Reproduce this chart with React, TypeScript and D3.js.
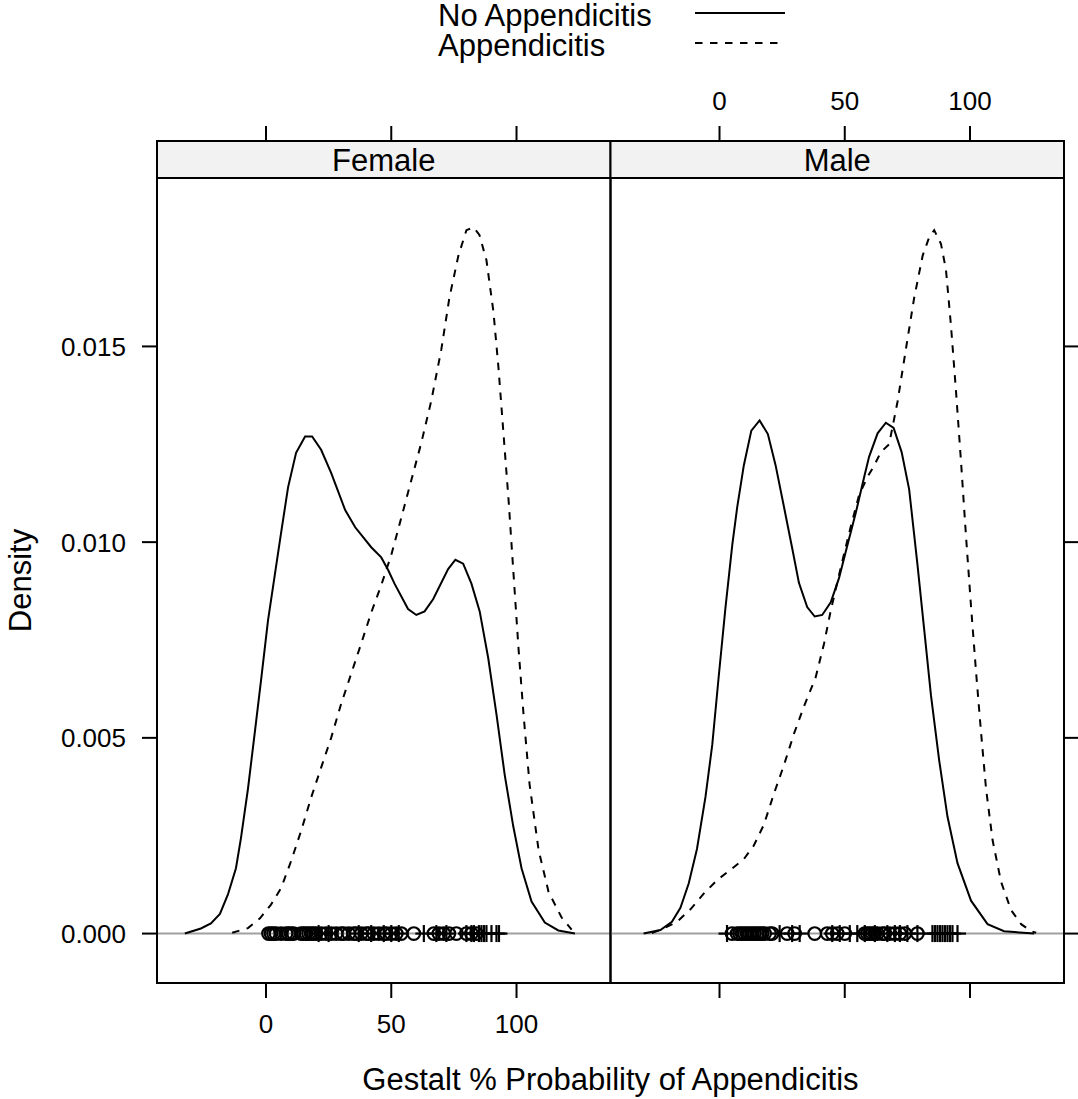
import React from "react";
import * as d3 from "d3";

// Density estimates (x = gestalt %, y = density) per sex and outcome group
const femaleNoApp: [number, number][] = [
  [-32.4, 0], [-26, 0.00013], [-22, 0.00026], [-18.4, 0.0005], [-15.2, 0.001], [-12, 0.00167],
  [-10, 0.00244], [-7.2, 0.0037], [-4.4, 0.00518], [-2, 0.00646], [0.8, 0.008], [3.6, 0.0092],
  [6, 0.01023], [8.8, 0.0114], [12, 0.01228], [15.6, 0.0127], [18.4, 0.0127], [22, 0.01236],
  [26, 0.01177], [31.6, 0.01082], [35.6, 0.01038], [42, 0.00987], [46, 0.00961], [48.8, 0.00928],
  [51.3, 0.00894], [56.7, 0.00829], [60, 0.00814], [63.3, 0.00823], [66.7, 0.00854], [72.7, 0.00931],
  [75.6, 0.00955], [78.7, 0.00945], [82, 0.00894], [85.3, 0.00823], [88.7, 0.00704], [92, 0.0056],
  [95.3, 0.00405], [98.7, 0.00274], [102, 0.00167], [106, 0.00082], [111.3, 0.00028], [116.7, 0.00008],
  [123.3, 0],
];

const femaleApp: [number, number][] = [
  [-13.5, 0.00002], [-7.2, 0.00014], [-2.4, 0.00039], [2, 0.00074], [6, 0.00116], [10, 0.00185],
  [14, 0.00262], [18, 0.00347], [22, 0.00424], [26, 0.005], [30, 0.00587], [34, 0.00664],
  [38, 0.00741], [42, 0.0082], [46, 0.0089], [50, 0.00967], [54, 0.01062], [58, 0.01158],
  [62, 0.01254], [66, 0.01362], [70, 0.01493], [73.2, 0.01624], [76.8, 0.01732], [80, 0.01797],
  [82.8, 0.01804], [85.2, 0.01785], [88, 0.0172], [90.8, 0.01588], [92.8, 0.01445], [94.8, 0.01277],
  [96.8, 0.0111], [98.8, 0.00919], [100.8, 0.00728], [102.8, 0.0056], [105.2, 0.00382],
  [108.8, 0.00214], [112.8, 0.00106], [118, 0.00041], [122, 0.0001],
];

const maleNoApp: [number, number][] = [
  [-30.3, 0], [-23.6, 0.00009], [-19, 0.0003], [-15.6, 0.00066], [-12.3, 0.00128], [-9, 0.00216],
  [-5.6, 0.00349], [-2.9, 0.00482], [-0.3, 0.00658], [2.4, 0.00834], [5.1, 0.00993], [7.1, 0.01091],
  [9.7, 0.01196], [12.7, 0.01285], [16, 0.01311], [19.3, 0.01276], [22.4, 0.01196], [25.7, 0.01091],
  [29, 0.00985], [31.7, 0.00896], [35, 0.00834], [38, 0.0081], [41, 0.00814], [44.4, 0.00846],
  [47.7, 0.00908], [51, 0.00991], [54.4, 0.01075], [57.7, 0.01165], [59.7, 0.01218], [63.1, 0.01278],
  [66.4, 0.01305], [69.5, 0.01292], [72.7, 0.0123], [75.7, 0.01135], [79, 0.00944], [81.7, 0.00777],
  [84.4, 0.00609], [87.7, 0.00442], [91, 0.00299], [95, 0.0018], [100.4, 0.00084], [107, 0.00024],
  [113.6, 0.00006], [125.6, 0],
];

const maleApp: [number, number][] = [
  [-27, 0.00001], [-22.3, 0.00013], [-17, 0.0003], [-11.6, 0.00062], [-6.3, 0.00102], [-0.9, 0.00137],
  [4.4, 0.00163], [9.7, 0.0019], [13.7, 0.00225], [17.7, 0.00278], [21.7, 0.00357], [25.7, 0.0043],
  [29.7, 0.0051], [33.7, 0.0058], [38.4, 0.00655], [41.7, 0.0074], [44.4, 0.00825], [48.4, 0.00935],
  [52.4, 0.0104], [55.7, 0.0112], [59.1, 0.01167], [61.7, 0.01195], [64.4, 0.0123], [67.7, 0.0125],
  [71.1, 0.0136], [74.4, 0.01493], [77.7, 0.01624], [81.1, 0.01732], [83.7, 0.01779], [85.7, 0.01797],
  [88.4, 0.01762], [90.4, 0.01696], [92.4, 0.01553], [94.4, 0.01386], [96.4, 0.01206], [98.4, 0.01015],
  [100.4, 0.00836], [102.4, 0.00669], [104.4, 0.00514], [106.4, 0.0037], [109, 0.00239],
  [112.4, 0.00132], [116.4, 0.0006], [120.4, 0.00024], [124.4, 0.00006], [126.4, 0.00002],
];

// Raw observations shown along the baseline
const femaleNoAppObs = [
  1, 2, 3, 4, 6, 8, 9, 10, 11, 14, 15, 16, 17, 18, 19, 20, 22, 24, 26, 28, 30, 31, 33, 35, 36, 38,
  40, 41, 43, 45, 47, 48, 50, 52, 54, 59, 67, 69, 71, 73, 76, 80, 82, 84,
];
const femaleAppObs = [21, 25, 37, 42, 47, 50, 53, 63, 68, 72, 80, 82, 83, 85, 86, 87, 88, 90, 92, 93];
const maleNoAppObs = [
  5, 7, 8, 9, 10, 11, 12, 13, 14, 15, 16, 17, 18, 20, 21, 27, 30, 38, 43, 45, 47, 50, 58, 59, 60,
  61, 62, 63, 65, 66, 68, 70, 72, 74, 79,
];
const maleAppObs = [
  3, 24, 29, 32, 45, 48, 52, 55, 58, 62, 67, 70, 72, 75, 79, 85, 86, 87, 88, 89, 90, 91, 92, 93, 95,
];

const panelNames = ["Female", "Male"];
const groupNames = ["No Appendicitis", "Appendicitis"];
const xTicks = [0, 50, 100];
const yTicks = [0, 0.005, 0.01, 0.015];
const yTickLabels = ["0.000", "0.005", "0.010", "0.015"];
const xLabel = "Gestalt % Probability of Appendicitis";
const yLabel = "Density";

const W = 1078;
const H = 1099;
const plotLeft = 157;
const plotRight = 1064;
const plotTop = 178;
const plotBottom = 983;
const stripH = 37;
const tick = 15;
const FONT = "'Liberation Sans', Arial, Helvetica, sans-serif";
const DASH = "7.5,7.5";

function padRange([a, b]: [number, number], p = 0.07): [number, number] {
  const d = b - a;
  return [a - p * d, b + p * d];
}

export default function App() {
  const curves = [
    [femaleNoApp, femaleApp],
    [maleNoApp, maleApp],
  ];
  const obs = [
    [femaleNoAppObs, femaleAppObs],
    [maleNoAppObs, maleAppObs],
  ];
  const all = curves.flat(2) as [number, number][];
  const xExt = d3.extent(all, (d) => d[0]) as [number, number];
  const yMax = d3.max(all, (d) => d[1]) as number;
  const panelW = (plotRight - plotLeft) / 2;

  const y = d3.scaleLinear().domain(padRange([0, yMax])).range([plotBottom, plotTop]);
  const xScales = [0, 1].map((i) =>
    d3
      .scaleLinear()
      .domain(padRange(xExt))
      .range([plotLeft + i * panelW, plotLeft + (i + 1) * panelW])
  );

  return (
    <svg
      width={W}
      height={H}
      style={{ position: "absolute", left: 0, top: 0, background: "#fff" }}
      fontFamily={FONT}
    >
      <rect x={0} y={0} width={W} height={H} fill="#fff" />

      {/* key */}
      {groupNames.map((g, i) => (
        <g key={g}>
          <text x={438} y={26 + i * 30} fontSize={31}>
            {g}
          </text>
          <line
            x1={695}
            x2={785}
            y1={13 + i * 30}
            y2={13 + i * 30}
            stroke="#000"
            strokeWidth={2}
            strokeDasharray={i === 1 ? DASH : undefined}
          />
        </g>
      ))}

      {[0, 1].map((p) => {
        const x = xScales[p];
        const x0 = plotLeft + p * panelW;
        const line = d3
          .line<[number, number]>()
          .x((d) => x(d[0]))
          .y((d) => y(d[1]));
        const yZero = y(0);
        return (
          <g key={p}>
            {/* strip */}
            <rect
              x={x0}
              y={plotTop - stripH}
              width={panelW}
              height={stripH}
              fill="#f2f2f2"
              stroke="#000"
              strokeWidth={2}
            />
            <text x={x0 + panelW / 2} y={plotTop - 7} fontSize={31} textAnchor="middle">
              {panelNames[p]}
            </text>

            {/* top ticks */}
            {xTicks.map((t) => (
              <line
                key={"tt" + t}
                x1={x(t)}
                x2={x(t)}
                y1={plotTop - stripH}
                y2={plotTop - stripH - tick}
                stroke="#000"
                strokeWidth={2}
              />
            ))}
            {p === 1 &&
              xTicks.map((t) => (
                <text key={"tl" + t} x={x(t)} y={110} fontSize={26} textAnchor="middle">
                  {t}
                </text>
              ))}

            {/* bottom ticks */}
            {xTicks.map((t) => (
              <line
                key={"bt" + t}
                x1={x(t)}
                x2={x(t)}
                y1={plotBottom}
                y2={plotBottom + tick}
                stroke="#000"
                strokeWidth={2}
              />
            ))}
            {p === 0 &&
              xTicks.map((t) => (
                <text key={"bl" + t} x={x(t)} y={1033} fontSize={26} textAnchor="middle">
                  {t}
                </text>
              ))}

            {/* vertical ticks */}
            {yTicks.map((t, i) =>
              p === 0 ? (
                <g key={"yt" + t}>
                  <line
                    x1={plotLeft - tick}
                    x2={plotLeft}
                    y1={y(t)}
                    y2={y(t)}
                    stroke="#000"
                    strokeWidth={2}
                  />
                  <text x={126} y={y(t) + 9.5} fontSize={26} textAnchor="end">
                    {yTickLabels[i]}
                  </text>
                </g>
              ) : (
                <line
                  key={"yt" + t}
                  x1={plotRight}
                  x2={plotRight + tick}
                  y1={y(t)}
                  y2={y(t)}
                  stroke="#000"
                  strokeWidth={2}
                />
              )
            )}

            <clipPath id={"clip" + p}>
              <rect x={x0} y={plotTop} width={panelW} height={plotBottom - plotTop} />
            </clipPath>
            <g clipPath={`url(#clip${p})`}>
              {/* reference line at zero density */}
              <line x1={x0} x2={x0 + panelW} y1={yZero} y2={yZero} stroke="#a0a0a0" strokeWidth={2} />
              {curves[p].map((c, gi) => (
                <path
                  key={gi}
                  d={line(c) || ""}
                  fill="none"
                  stroke="#000"
                  strokeWidth={2}
                  strokeDasharray={gi === 1 ? DASH : undefined}
                />
              ))}
              {obs[p][0].map((v, k) => (
                <circle key={"c" + k} cx={x(v)} cy={yZero} r={6.3} fill="none" stroke="#000" strokeWidth={2.2} />
              ))}
              {obs[p][1].map((v, k) => (
                <g key={"p" + k} stroke="#000" strokeWidth={2.2}>
                  <line x1={x(v) - 8.5} x2={x(v) + 8.5} y1={yZero} y2={yZero} />
                  <line x1={x(v)} x2={x(v)} y1={yZero - 8.5} y2={yZero + 8.5} />
                </g>
              ))}
            </g>

            {/* panel border */}
            <rect
              x={x0}
              y={plotTop}
              width={panelW}
              height={plotBottom - plotTop}
              fill="none"
              stroke="#000"
              strokeWidth={2}
            />
          </g>
        );
      })}

      <text x={(plotLeft + plotRight) / 2} y={1090} fontSize={31} textAnchor="middle">
        {xLabel}
      </text>
      <text
        transform={`translate(31,${(plotTop + plotBottom) / 2}) rotate(-90)`}
        fontSize={31}
        textAnchor="middle"
      >
        {yLabel}
      </text>
    </svg>
  );
}
